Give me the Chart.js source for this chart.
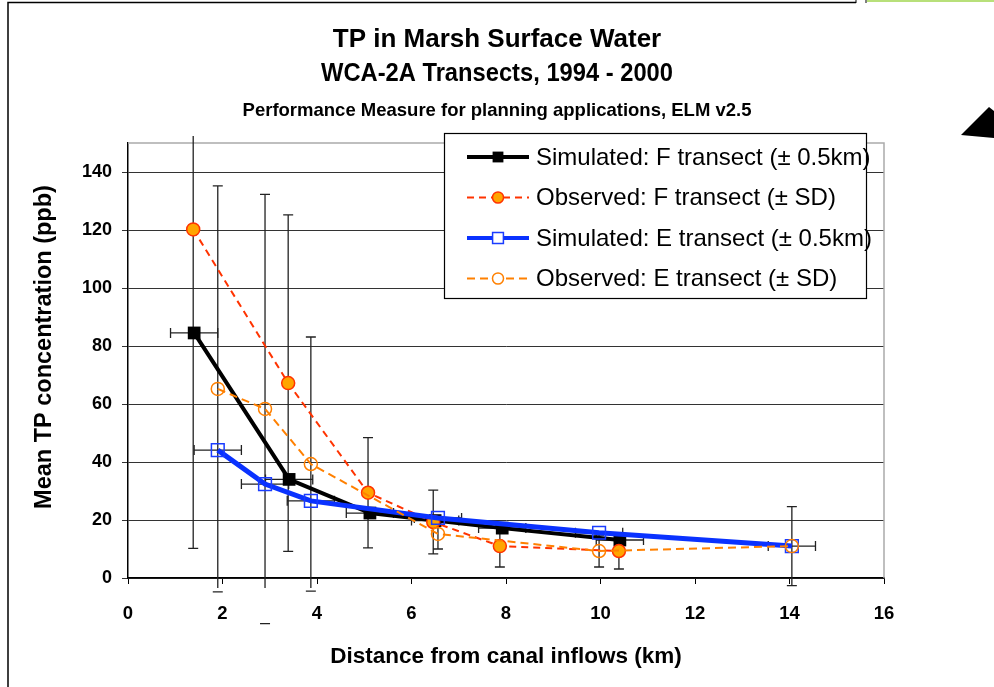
<!DOCTYPE html>
<html><head><meta charset="utf-8">
<script src="https://cdn.jsdelivr.net/npm/chart.js@4.4.1/dist/chart.umd.min.js"></script>
<style>html,body{margin:0;padding:0;background:#fff;overflow:hidden}#wrap{width:994px;height:687px;position:relative}canvas{display:block}</style>
</head><body><div id="wrap"><canvas id="c" width="994" height="687"></canvas></div>
<script>
// ---- data ----
const X_TICKS = [0, 2, 4, 6, 8, 10, 12, 14, 16];
const Y_TICKS = [0, 20, 40, 60, 80, 100, 120, 140];
const SERIES_NAMES = [
  'Simulated: F transect (\u00b1 0.5km)',
  'Observed: F transect (\u00b1 SD)',
  'Simulated: E transect (\u00b1 0.5km)',
  'Observed: E transect (\u00b1 SD)'
];
const SIM_F_X = [1.40, 3.41, 5.12, 6.50, 7.92, 10.41];
const SIM_F_Y = [84.5, 34.0, 22.4, 19.8, 17.2, 13.1];
const OBS_F_X = [1.38, 3.39, 5.08, 6.46, 7.87, 10.39];
const OBS_F_Y = [120.2, 67.2, 29.4, 19.3, 11.0, 9.3];
const OBS_F_SD = [110, 58, 19, 11, 7.2, 6.2];
const SIM_E_X = [1.90, 2.90, 3.87, 6.56, 9.97, 14.05];
const SIM_E_Y = [44.1, 32.4, 26.6, 20.7, 15.6, 11.0];
const OBS_E_X = [1.90, 2.90, 3.87, 6.56, 9.97, 14.05];
const OBS_E_Y = [65.2, 58.3, 39.3, 15.2, 9.3, 11.0];
const OBS_E_SD = [70, 74, 43.8, 5.2, 5.5, 13.6];
const SIM_X_ERR = 0.5;
const TITLE_LINES = ['TP in Marsh Surface Water', 'WCA-2A Transects, 1994 - 2000'];
const SUBTITLE = 'Performance Measure for planning applications, ELM v2.5';
const X_TITLE = 'Distance from canal inflows (km)';
const Y_TITLE = 'Mean TP concentration (ppb)';

const FONT = "'Liberation Sans', Arial, Helvetica, sans-serif";
const pts = (xs, ys) => xs.map((x, i) => ({x, y: ys[i]}));

const datasets = [
  {label: SERIES_NAMES[0], data: pts(SIM_F_X, SIM_F_Y), borderColor: '#000', backgroundColor: '#000',
   borderWidth: 4, pointStyle: 'rect', pointRadius: 9, pointBorderWidth: 0, pointBackgroundColor: '#000', order: 4},
  {label: SERIES_NAMES[1], data: pts(OBS_F_X, OBS_F_Y), borderColor: '#ff3300', borderWidth: 2, borderDash: [7, 5],
   pointStyle: 'circle', pointRadius: 6.5, pointBorderWidth: 1.5, pointBorderColor: '#ff3300', pointBackgroundColor: '#ffa500', order: 3},
  {label: SERIES_NAMES[2], data: pts(SIM_E_X, SIM_E_Y), borderColor: '#0a32ff', borderWidth: 5,
   pointStyle: 'rect', pointRadius: 9, pointBorderWidth: 1.5, pointBorderColor: '#1a3cff', pointBackgroundColor: 'rgba(0,0,0,0)', order: 2},
  {label: SERIES_NAMES[3], data: pts(OBS_E_X, OBS_E_Y), borderColor: '#ff8000', borderWidth: 2, borderDash: [8, 5],
   pointStyle: 'circle', pointRadius: 6.5, pointBorderWidth: 1.5, pointBorderColor: '#ff8000', pointBackgroundColor: 'rgba(0,0,0,0)', order: 1}
];

const pagePlugin = {
  id: 'page',
  beforeDraw(chart) {
    const ctx = chart.ctx;
    ctx.save();
    ctx.fillStyle = '#fff'; ctx.fillRect(0, 0, chart.width, chart.height);
    ctx.strokeStyle = '#000'; ctx.lineWidth = 1.5;
    ctx.beginPath(); ctx.moveTo(8, 687); ctx.lineTo(8, 2.5); ctx.lineTo(856, 2.5); ctx.stroke();
    ctx.lineWidth = 1;
    ctx.beginPath(); ctx.moveTo(856, 0); ctx.lineTo(856, 3); ctx.moveTo(866, 0); ctx.lineTo(866, 3); ctx.stroke();
    ctx.fillStyle = '#b8e07a'; ctx.fillRect(867, 0, 127, 2);
    ctx.fillStyle = '#000';
    ctx.beginPath(); ctx.moveTo(961, 135); ctx.lineTo(989, 107); ctx.lineTo(994, 111); ctx.lineTo(994, 138); ctx.closePath(); ctx.fill();
    // titles
    ctx.fillStyle = '#000'; ctx.textAlign = 'center'; ctx.textBaseline = 'middle';
    ctx.font = 'bold 26px ' + FONT;
    ctx.fillText(TITLE_LINES[0], 497, 40);
    ctx.fillText(TITLE_LINES[1], 497, 74, 352);
    ctx.font = 'bold 18.5px ' + FONT;
    ctx.fillText(SUBTITLE, 497, 111);
    // y-axis title
    ctx.save();
    ctx.translate(45, 347);
    ctx.rotate(-Math.PI / 2);
    ctx.font = 'bold 23.5px ' + FONT;
    ctx.fillText(Y_TITLE, 0, 0);
    ctx.restore();
    ctx.restore();
  },
  beforeDatasetsDraw(chart) {
    const {ctx, chartArea: a} = chart;
    ctx.save();
    ctx.strokeStyle = '#aaa'; ctx.lineWidth = 1.5;
    ctx.beginPath(); ctx.moveTo(a.left, a.top); ctx.lineTo(a.right, a.top); ctx.lineTo(a.right, a.bottom); ctx.stroke();
    ctx.restore();
  }
};

const errorBarPlugin = {
  id: 'errorBars',
  beforeDatasetsDraw(chart) {
    const {ctx, chartArea: a, scales: {x, y}} = chart;
    const lo = a.top - 7, hi = a.bottom + 10, cap = 5;
    ctx.save();
    ctx.strokeStyle = '#222'; ctx.lineWidth = 1.3;
    const vbar = (xv, yv, sd) => {
      const px = x.getPixelForValue(xv);
      const p1 = y.getPixelForValue(yv + sd), p2 = y.getPixelForValue(yv - sd);
      ctx.beginPath();
      ctx.moveTo(px, Math.max(p1, lo)); ctx.lineTo(px, Math.min(p2, hi));
      if (p1 >= lo) { ctx.moveTo(px - cap, p1); ctx.lineTo(px + cap, p1); }
      if (p2 <= chart.height) { ctx.moveTo(px - cap, p2); ctx.lineTo(px + cap, p2); }
      ctx.stroke();
    };
    const hbar = (xv, yv, e) => {
      const py = y.getPixelForValue(yv);
      const p1 = x.getPixelForValue(xv - e), p2 = x.getPixelForValue(xv + e);
      ctx.beginPath();
      ctx.moveTo(p1, py); ctx.lineTo(p2, py);
      ctx.moveTo(p1, py - cap); ctx.lineTo(p1, py + cap);
      ctx.moveTo(p2, py - cap); ctx.lineTo(p2, py + cap);
      ctx.stroke();
    };
    OBS_F_X.forEach((xv, i) => vbar(xv, OBS_F_Y[i], OBS_F_SD[i]));
    OBS_E_X.forEach((xv, i) => vbar(xv, OBS_E_Y[i], OBS_E_SD[i]));
    SIM_F_X.forEach((xv, i) => hbar(xv, SIM_F_Y[i], SIM_X_ERR));
    SIM_E_X.forEach((xv, i) => hbar(xv, SIM_E_Y[i], SIM_X_ERR));
    ctx.restore();
  }
};

const legendPlugin = {
  id: 'boxLegend',
  afterDraw(chart) {
    const ctx = chart.ctx;
    const bx = 444, by = 133, bw = 422, bh = 165;
    ctx.save();
    ctx.fillStyle = '#fff'; ctx.fillRect(bx, by, bw, bh);
    ctx.strokeStyle = '#000'; ctx.lineWidth = 1.2; ctx.strokeRect(bx + 0.5, by + 0.5, bw, bh);
    chart.data.datasets.forEach((ds, i) => {
      const cy = 157 + i * 40.5;
      ctx.save();
      ctx.strokeStyle = ds.borderColor; ctx.lineWidth = Math.min(ds.borderWidth, 4);
      ctx.setLineDash(ds.borderDash || []);
      ctx.beginPath(); ctx.moveTo(467, cy); ctx.lineTo(529, cy); ctx.stroke();
      ctx.setLineDash([]);
      ctx.strokeStyle = ds.pointBorderColor || ds.borderColor;
      ctx.lineWidth = ds.pointBorderWidth;
      ctx.fillStyle = ds.pointBackgroundColor === 'rgba(0,0,0,0)' ? '#fff' : ds.pointBackgroundColor;
      Chart.helpers.drawPoint(ctx, {pointStyle: ds.pointStyle, radius: ds.pointRadius * 0.85, borderWidth: ds.pointBorderWidth}, 498, cy);
      ctx.restore();
      ctx.fillStyle = '#000'; ctx.textAlign = 'left'; ctx.textBaseline = 'middle';
      ctx.font = '24px ' + FONT;
      ctx.fillText(ds.label, 536, cy + 1);
    });
    ctx.restore();
  }
};

new Chart(document.getElementById('c'), {
  type: 'line',
  data: {datasets},
  plugins: [pagePlugin, errorBarPlugin, legendPlugin],
  options: {
    responsive: false, animation: false,
    layout: {padding: {top: 143, right: 110, left: 0, bottom: 0}},
    plugins: {legend: {display: false}, tooltip: {enabled: false}, title: {display: false}},
    elements: {line: {tension: 0}},
    scales: {
      x: {
        type: 'linear', min: 0, max: 16,
        afterBuildTicks: s => { s.ticks = X_TICKS.map(v => ({value: v})); },
        afterFit: s => { s.height = 109; },
        grid: {drawOnChartArea: false, drawTicks: true, tickLength: 6, tickColor: '#000', tickWidth: 1},
        border: {color: '#000', width: 1.5},
        ticks: {font: {family: FONT, weight: 'bold', size: 18.5}, color: '#000', padding: 19, maxRotation: 0, autoSkip: false},
        title: {display: true, text: X_TITLE, color: '#000', font: {family: FONT, weight: 'bold', size: 22.5}, padding: {top: 0, bottom: 17}}
      },
      y: {
        type: 'linear', min: 0, max: 150,
        afterBuildTicks: s => { s.ticks = Y_TICKS.map(v => ({value: v})); },
        afterFit: s => { s.width = 128; },
        grid: {color: '#333', lineWidth: 1, tickLength: 6, tickColor: '#333'},
        border: {color: '#000', width: 1.5},
        ticks: {font: {family: FONT, weight: 'bold', size: 18}, color: '#000', padding: 10},
        title: {display: false}
      }
    }
  }
});
</script></body></html>
